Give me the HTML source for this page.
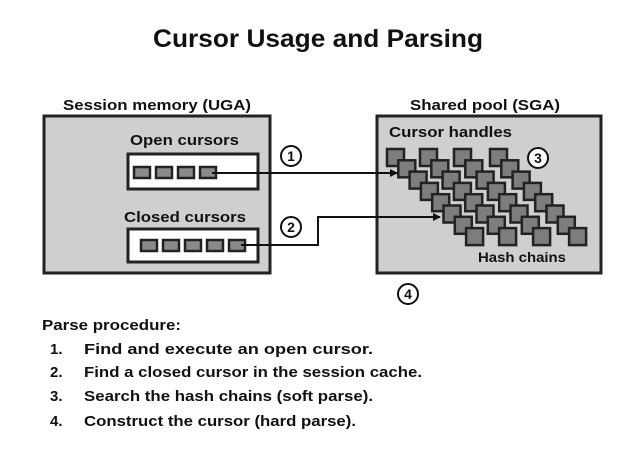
<!DOCTYPE html>
<html><head><style>
body{margin:0;background:#fff;}
svg text{font-family:"Liberation Sans",Arial,sans-serif;font-weight:bold;fill:#111;}
</style></head><body>
<svg width="627" height="449" viewBox="0 0 627 449" xmlns="http://www.w3.org/2000/svg">
<defs>
<marker id="ah" markerWidth="8" markerHeight="8" refX="7" refY="4" orient="auto" markerUnits="userSpaceOnUse">
<path d="M0,0 L8,4 L0,8 z" fill="#111"/></marker>
</defs>
<text x="153" y="47" font-size="25" textLength="330" lengthAdjust="spacingAndGlyphs">Cursor Usage and Parsing</text>
<text x="63" y="110" font-size="15" textLength="188" lengthAdjust="spacingAndGlyphs">Session memory (UGA)</text>
<text x="410" y="110" font-size="15" textLength="150" lengthAdjust="spacingAndGlyphs">Shared pool (SGA)</text>
<rect x="44" y="116" width="226" height="157" fill="#cfcfcf" stroke="#222" stroke-width="3"/>
<rect x="377" y="116" width="224" height="157" fill="#cfcfcf" stroke="#222" stroke-width="3"/>
<text x="130" y="145" font-size="15" textLength="109" lengthAdjust="spacingAndGlyphs">Open cursors</text>
<text x="124" y="222" font-size="15" textLength="122" lengthAdjust="spacingAndGlyphs">Closed cursors</text>
<rect x="128" y="154" width="130" height="35" fill="#fff" stroke="#222" stroke-width="3"/>
<rect x="128" y="229" width="130" height="33" fill="#fff" stroke="#222" stroke-width="3"/>
<g fill="#8a8a8a" stroke="#222" stroke-width="2.5">
<rect x="134" y="167" width="16" height="11"/><rect x="156" y="167" width="16" height="11"/><rect x="178" y="167" width="16" height="11"/><rect x="200" y="167" width="16" height="11"/>
<rect x="141" y="240" width="16" height="11"/><rect x="163" y="240" width="16" height="11"/><rect x="185" y="240" width="16" height="11"/><rect x="207" y="240" width="16" height="11"/><rect x="229" y="240" width="16" height="11"/>
</g>
<text x="389" y="137" font-size="15" textLength="123" lengthAdjust="spacingAndGlyphs">Cursor handles</text>
<text x="478" y="262" font-size="14" textLength="88" lengthAdjust="spacingAndGlyphs">Hash chains</text>
<g fill="#7d7d7d" stroke="#222" stroke-width="2.5">
<rect x="387" y="149" width="17" height="17"/><rect x="398.3" y="160.3" width="17" height="17"/><rect x="409.6" y="171.6" width="17" height="17"/><rect x="420.9" y="182.9" width="17" height="17"/><rect x="432.2" y="194.2" width="17" height="17"/><rect x="443.5" y="205.5" width="17" height="17"/><rect x="454.8" y="216.8" width="17" height="17"/><rect x="466.1" y="228.1" width="17" height="17"/>
<rect x="420" y="149" width="17" height="17"/><rect x="431.3" y="160.3" width="17" height="17"/><rect x="442.6" y="171.6" width="17" height="17"/><rect x="453.9" y="182.9" width="17" height="17"/><rect x="465.2" y="194.2" width="17" height="17"/><rect x="476.5" y="205.5" width="17" height="17"/><rect x="487.8" y="216.8" width="17" height="17"/><rect x="499.1" y="228.1" width="17" height="17"/>
<rect x="454" y="149" width="17" height="17"/><rect x="465.3" y="160.3" width="17" height="17"/><rect x="476.6" y="171.6" width="17" height="17"/><rect x="487.9" y="182.9" width="17" height="17"/><rect x="499.2" y="194.2" width="17" height="17"/><rect x="510.5" y="205.5" width="17" height="17"/><rect x="521.8" y="216.8" width="17" height="17"/><rect x="533.1" y="228.1" width="17" height="17"/>
<rect x="490" y="149" width="17" height="17"/><rect x="501.3" y="160.3" width="17" height="17"/><rect x="512.6" y="171.6" width="17" height="17"/><rect x="523.9" y="182.9" width="17" height="17"/><rect x="535.2" y="194.2" width="17" height="17"/><rect x="546.5" y="205.5" width="17" height="17"/><rect x="557.8" y="216.8" width="17" height="17"/><rect x="569.1" y="228.1" width="17" height="17"/>
</g>
<g fill="none" stroke="#111" stroke-width="2">
<path d="M212,173 H397" marker-end="url(#ah)"/>
<path d="M241,245 H318 V217 H440" marker-end="url(#ah)"/>
</g>
<g fill="#fff" stroke="#111" stroke-width="2">
<circle cx="291" cy="156" r="10"/><circle cx="291" cy="227" r="10"/><circle cx="538" cy="158" r="10"/><circle cx="408" cy="294" r="10"/>
</g>
<g font-size="14" text-anchor="middle">
<text x="291" y="161">1</text><text x="291" y="232">2</text><text x="538" y="163">3</text><text x="408" y="299">4</text>
</g>
<g font-size="15">
<text x="42" y="330" textLength="139" lengthAdjust="spacingAndGlyphs">Parse procedure:</text>
<text x="50" y="354">1.</text><text x="84" y="354" textLength="289" lengthAdjust="spacingAndGlyphs">Find and execute an open cursor.</text>
<text x="50" y="377">2.</text><text x="84" y="377" textLength="338" lengthAdjust="spacingAndGlyphs">Find a closed cursor in the session cache.</text>
<text x="50" y="401">3.</text><text x="84" y="401" textLength="289" lengthAdjust="spacingAndGlyphs">Search the hash chains (soft parse).</text>
<text x="50" y="426">4.</text><text x="84" y="426" textLength="272" lengthAdjust="spacingAndGlyphs">Construct the cursor (hard parse).</text>
</g>
</svg>
</body></html>
